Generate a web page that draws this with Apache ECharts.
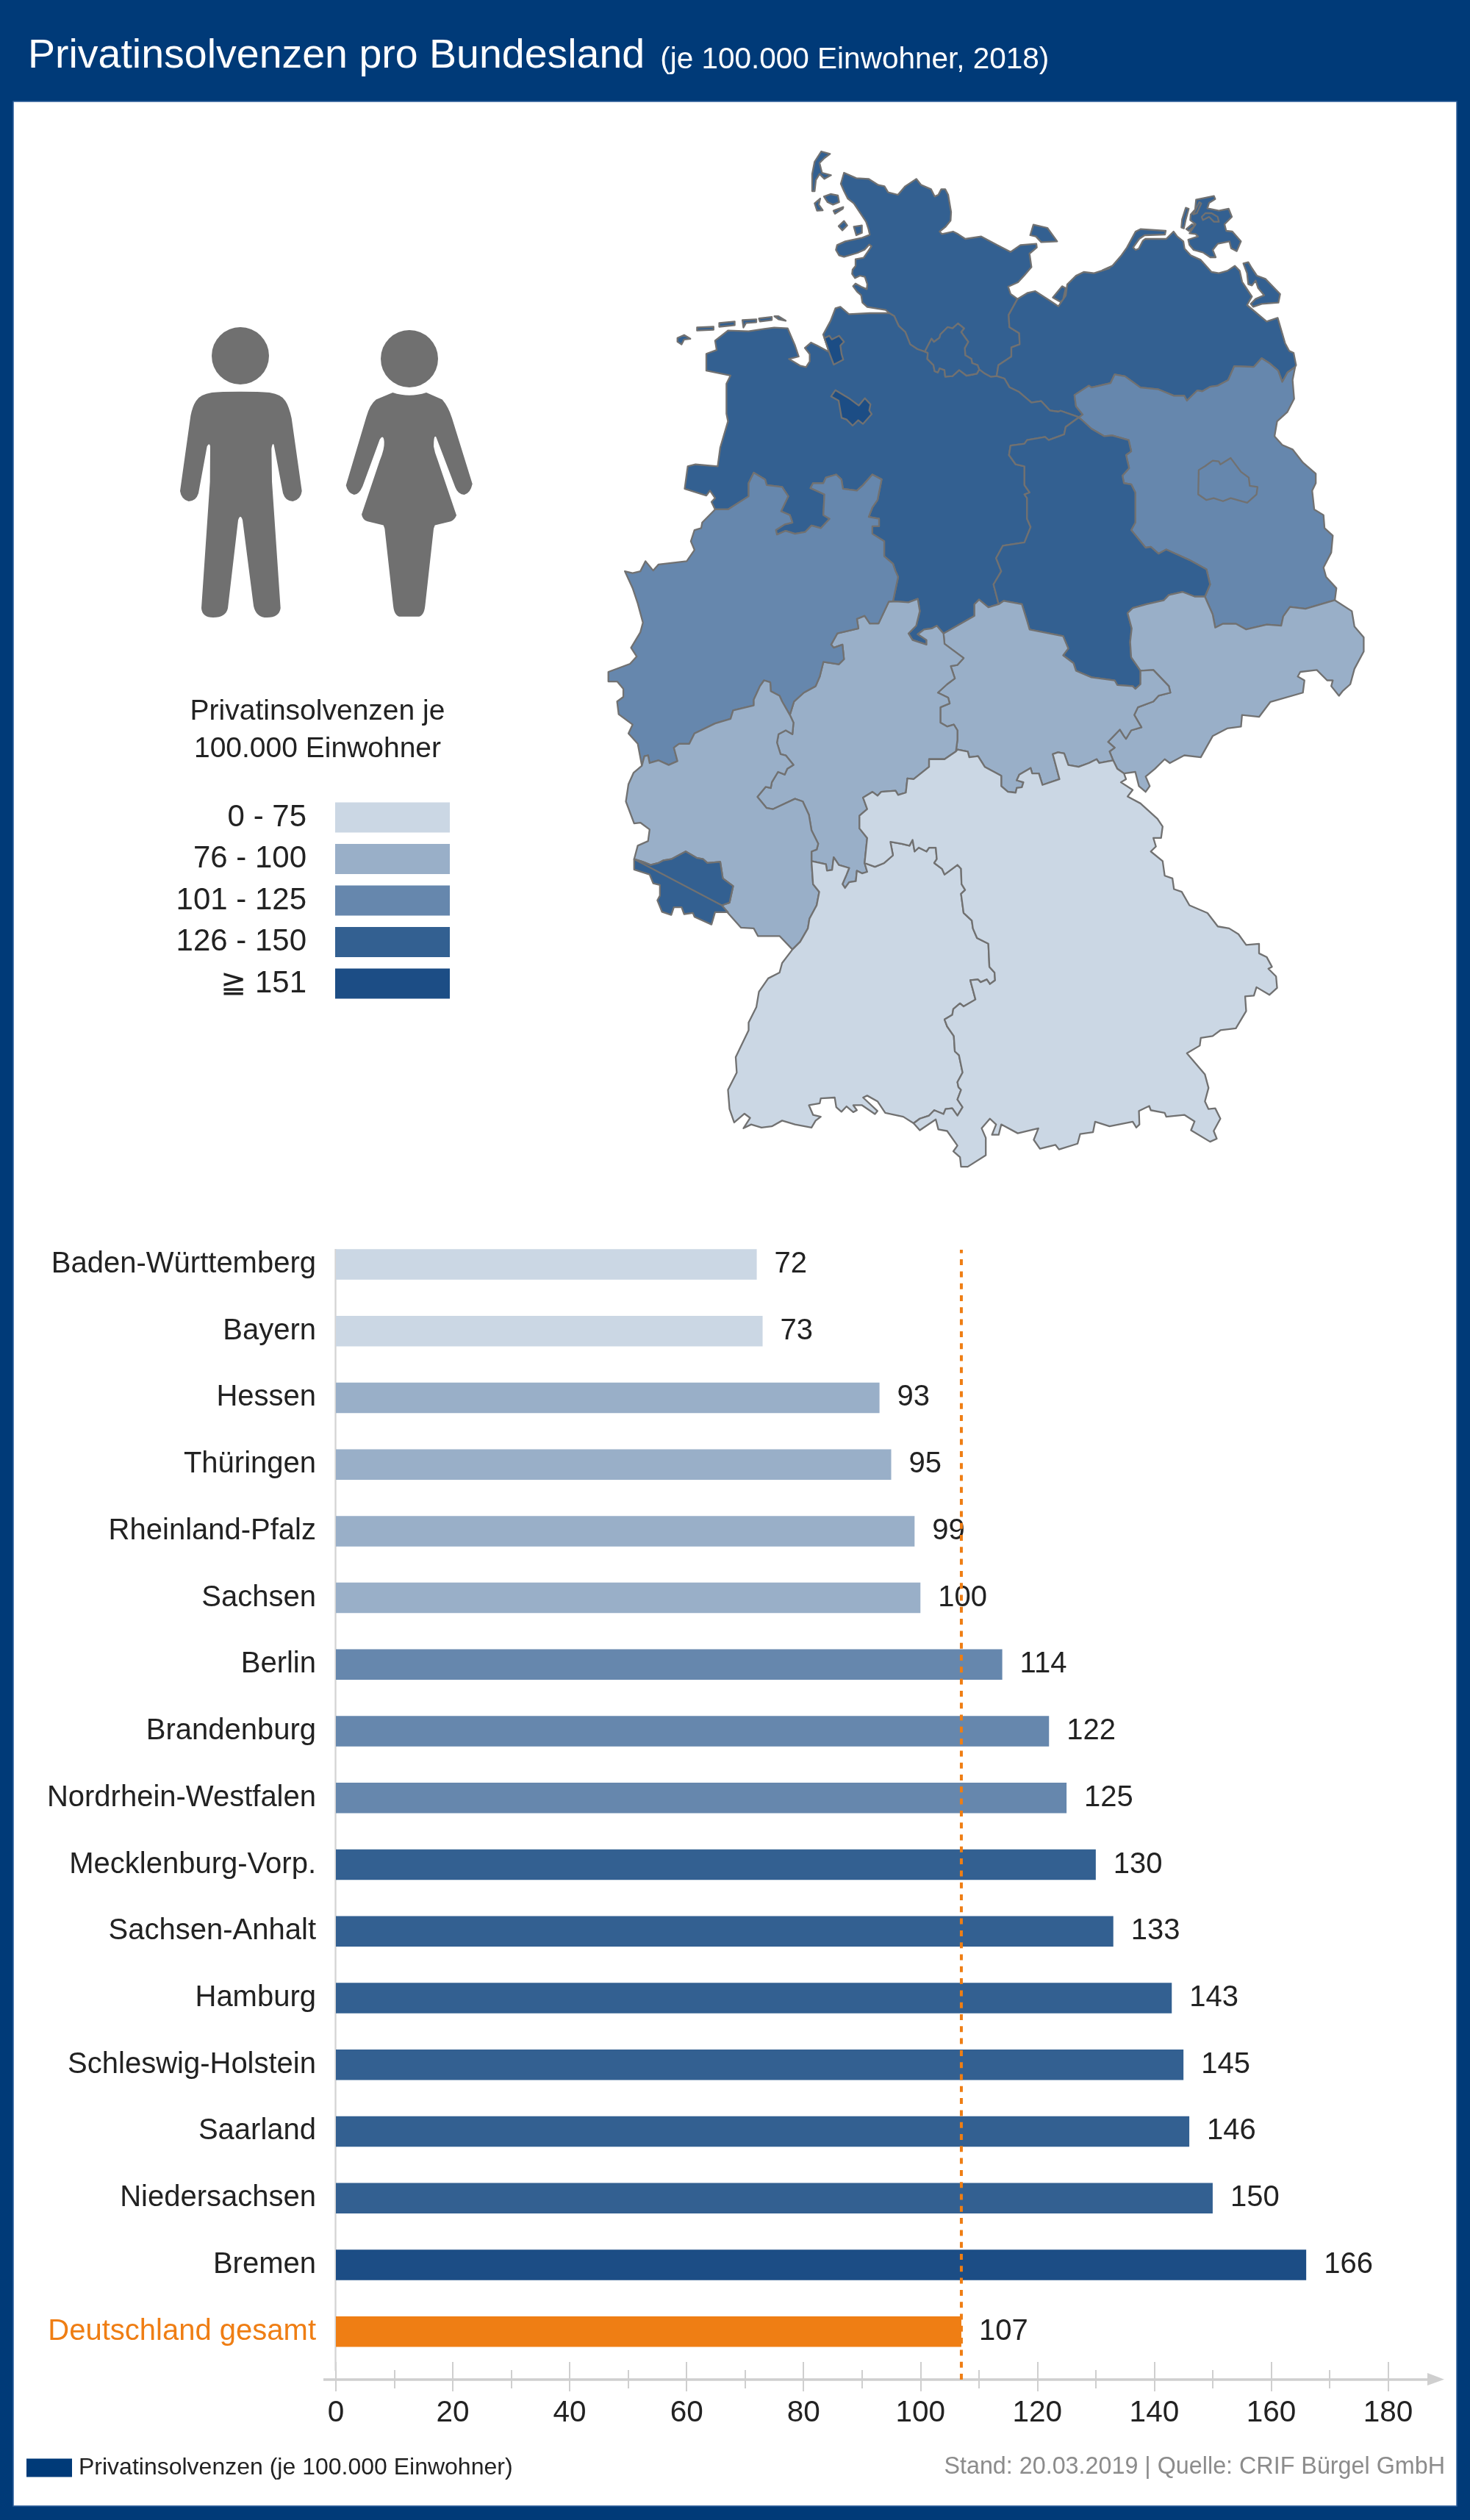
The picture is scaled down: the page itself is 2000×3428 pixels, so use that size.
<!DOCTYPE html>
<html>
<head>
<meta charset="utf-8">
<title>Privatinsolvenzen pro Bundesland</title>
<script src="https://cdn.jsdelivr.net/npm/echarts@6/dist/echarts.min.js"></script>
<style>
html, body { margin: 0; padding: 0; background: #003a78; }
#chart { width: 2000px; height: 3428px; }
</style>
</head>
<body>
<div id="chart"></div>
<script>
var categories = ['Baden-Württemberg', 'Bayern', 'Hessen', 'Thüringen', 'Rheinland-Pfalz', 'Sachsen', 'Berlin', 'Brandenburg', 'Nordrhein-Westfalen', 'Mecklenburg-Vorp.', 'Sachsen-Anhalt', 'Hamburg', 'Schleswig-Holstein', 'Saarland', 'Niedersachsen', 'Bremen', 'Deutschland gesamt'];
var values = [72, 73, 93, 95, 99, 100, 114, 122, 125, 130, 133, 143, 145, 146, 150, 166, 107];
var bandMins = [0, 76, 101, 126, 151];
var bandMaxs = [75, 100, 125, 150, 100000];
var bandLabels = ['0 - 75', '76 - 100', '101 - 125', '126 - 150', '≧ 151'];
var bandColors = ['#cbd7e4', '#99afc8', '#6687ad', '#336091', '#1c4d85'];
var totalName = 'Deutschland gesamt';
var FONT = '"Liberation Sans", Arial, sans-serif';
var BLUE = '#003a78';
var ORANGE = '#ef7e14';

function crop(x0, y0, kx, ky) {
    return function(a) {
        var o = [];
        for (var i = 0; i < a.length; i += 2) o.push([x0 + a[i] / kx, y0 + a[i + 1] / ky]);
        return o;
    };
}
var N = crop(780, 170, 1.4255, 1.96);
var S = crop(780, 800, 1.4255, 1.912);
var W = crop(1040, 180, 3, 3);
var E = crop(1500, 240, 3, 3);
function rev(a) { return a.slice().reverse(); }

var shCoast = W([510,738, 495,725, 420,713, 400,695, 395,665, 378,650, 362,628, 372,617, 395,630, 418,640, 420,620, 410,590, 390,585, 370,595, 358,578, 360,560, 372,545, 372,518, 405,512, 420,490, 437,465, 428,458, 410,478, 380,492, 325,508, 305,502, 292,480, 297,460, 330,445, 400,430, 430,418, 425,395, 415,365, 395,335, 365,290, 340,270, 325,240, 312,210, 325,165, 375,187, 425,190, 465,215, 490,220, 505,245, 545,255, 575,220, 620,190, 640,215, 680,232, 695,262, 710,255, 722,232, 738,232, 750,255, 762,325, 760,360, 740,385, 715,405, 725,415, 770,405, 790,415, 820,435, 885,425, 950,460, 1005,488, 1045,460, 1110,455, 1112,470, 1082,495, 1090,550, 1060,585, 1035,612, 995,630, 1005,660, 1033,680]);
var shMv = W([1033,680, 997,745, 1000,795, 1040,820, 1042,865, 1008,878, 1008,915, 955,950, 948,995]);
var elbe = W([948,995, 980,1005, 1000,1040, 1040,1060, 1090,1103, 1130,1097, 1165,1135, 1200,1140]).concat(N([945,762, 978,778]));
var hhToElbe = W([877,968, 900,985, 925,998, 948,995]);
var hhNorth = W([655,895, 682,842, 692,855, 715,838, 718,825, 748,795, 768,800, 790,780, 815,800, 803,815, 832,855, 818,880, 820,910, 845,925, 848,942, 870,950, 877,968]);
var hhSouth = W([655,895, 667,900, 665,925, 690,950, 695,975, 708,980, 715,963, 735,970, 738,997, 768,995, 795,970, 825,993, 867,985, 877,968]);
var shNi = W([510,738, 530,750, 548,790, 575,815, 595,865, 625,885, 655,895]);
var mvCoast = W([1033,680, 1075,655, 1105,648, 1170,690, 1200,710]).concat(
    N([955,455, 958,425, 975,402, 990,392, 1010,395, 1040,382]),
    E([0,383, 40,365, 75,325, 100,290, 135,225, 155,215, 258,222, 255,237, 172,240, 150,255, 125,290, 135,300, 148,295, 165,262, 175,255, 260,255, 290,225, 305,245, 330,265, 335,295, 360,322, 400,340, 445,390, 475,395, 510,385, 540,365, 560,385, 570,430, 610,490, 590,525, 670,592, 715,577, 745,680, 762,712, 780,720, 790,770])
);
var mvBb = N([1400,645, 1385,660, 1375,685, 1367,655, 1350,635, 1335,622, 1320,645, 1282,643, 1270,680, 1250,695, 1235,698, 1220,710, 1210,708, 1190,735, 1185,722, 1165,722, 1135,705, 1100,700, 1070,670, 1050,665, 1042,688, 1005,700, 1000,695, 972,720, 975,750, 988,772, 980,780]);
var niCoast = W([510,738, 430,738, 345,742, 325,725, 310,712, 290,718, 270,770, 240,825, 265,897, 215,870, 190,858, 165,880, 185,905, 185,935, 170,958, 145,952, 100,925, 140,915, 125,870, 95,800, 40,797, 0,802]).concat(N([340,550, 300,548, 275,575, 278,600, 258,610, 258,655, 305,668, 297,690, 297,770, 300,790, 285,860, 280,910, 237,905, 222,910, 216,970, 258,988, 265,975, 275,995, 268,1005, 275,1025]));
var niNrw = N([275,1025, 300,1025, 340,990, 340,955, 350,927, 372,945, 375,960, 405,965, 417,990, 403,1030, 420,1040, 425,1060, 410,1065, 393,1080, 395,1092, 412,1082, 430,1090, 450,1085, 462,1068, 480,1075, 497,1050, 485,1040, 487,985, 460,968, 465,955, 485,955, 490,940, 510,932, 520,945, 523,970, 550,975, 562,960, 580,932, 598,945, 590,1000, 580,1020, 573,1045, 593,1050, 593,1070, 580,1070, 580,1090, 603,1110, 603,1150, 620,1170, 625,1190, 630,1205, 620,1270]);
var niHe = S([620,35, 630,35, 650,37, 668,28, 672,60, 665,98, 650,118, 658,135, 685,147, 685,135, 668,120, 680,108, 695,105, 705,98, 718,118]);
var niTh = S([718,118, 778,72, 778,42, 787,30, 805,50, 825,42]);
var niSt = N([825,1278, 815,1225, 830,1190, 820,1155, 833,1122, 875,1113, 887,1072, 880,1050, 880,995, 875,985, 885,980, 875,960, 875,910, 858,905, 845,880, 848,855, 875,850, 880,840, 915,832, 922,840, 952,825, 955,805, 978,782, 980,780]);
var bbEast = N([1400,645, 1395,680, 1398,730, 1385,765, 1365,790, 1360,830, 1375,853, 1395,865, 1415,900, 1440,930, 1440,955, 1433,975, 1437,1025, 1455,1040, 1457,1075, 1473,1095, 1470,1140, 1455,1180, 1460,1205, 1480,1235, 1477,1267]);
var bbSn = N([1477,1267, 1420,1290, 1390,1285, 1377,1310, 1373,1335, 1345,1332, 1305,1345, 1285,1330, 1260,1330, 1245,1340, 1240,1305, 1225,1258]);
var bbSt = N([1225,1258, 1235,1225, 1228,1185, 1195,1160, 1150,1132, 1135,1143, 1120,1125, 1110,1127, 1082,1080, 1090,1060, 1090,980, 1082,958, 1068,955, 1065,935, 1078,915, 1072,880, 1082,870, 1077,840, 1045,828, 1030,830, 1005,810, 985,785, 980,780]);
var stTh = S([825,42, 835,33, 870,42, 880,85, 885,108, 950,125, 960,157, 950,175, 970,195, 975,215, 1005,232, 1050,240, 1055,252, 1085,255, 1090,262, 1100,250, 1100,215]);
var stSn = S([1100,215, 1082,180, 1080,140, 1083,105, 1075,65, 1085,52, 1112,42, 1145,32, 1155,18, 1182,10, 1205,22, 1225,22]);
var snOuter = S([1477,30, 1510,60, 1515,100, 1533,128, 1533,165, 1515,210, 1507,250, 1492,268, 1485,280, 1470,255, 1473,240, 1462,240, 1442,213, 1410,218, 1405,230, 1418,240, 1415,272, 1352,296, 1330,335, 1297,330, 1295,360, 1268,365, 1240,385, 1217,440, 1185,435, 1157,455, 1147,445, 1128,470, 1110,490, 1118,515, 1110,530, 1097,515, 1090,478]);
var snBy = S([1090,478, 1068,482, 1055,470, 1047,448]);
var snTh = S([1047,448, 1040,425, 1050,415, 1037,400, 1060,368, 1068,385, 1072,392, 1082,370, 1102,362, 1088,330, 1095,310, 1125,295, 1135,280, 1158,272, 1155,255, 1125,213, 1100,215]);
var thBy = S([1047,448, 1020,455, 1015,445, 1000,455, 980,465, 960,460, 952,430, 940,427, 930,432, 943,497, 910,512, 903,482, 890,482, 887,468, 865,485, 860,500, 873,505, 870,518, 860,520, 858,532, 843,530, 830,515, 830,488, 798,465, 785,437, 768,440, 765,425, 745,420, 742,425]);
var thHe = S([742,425, 745,395, 745,370, 738,355, 725,360, 712,350, 712,310, 730,300, 727,285, 707,272, 725,250, 740,235, 732,203, 745,200, 757,182, 720,145, 718,118]);
var heBy = S([742,425, 720,445, 690,445, 690,465, 660,497, 648,495, 645,532, 630,538, 625,527, 597,530, 590,540, 580,530, 562,545, 570,575, 555,592, 555,625, 570,650, 565,715]);
var heBw = S([565,715, 570,738, 560,742, 550,735, 548,762, 535,765, 527,780, 522,770, 530,745, 535,728, 515,720, 505,700, 502,733, 492,735, 490,718, 462,710]);
var rpHe = S([420,330, 427,350, 425,380, 412,370, 398,380, 395,402, 402,432, 412,435, 427,460, 415,470, 410,485, 397,478, 385,505, 383,520, 373,517, 357,543, 375,572, 387,575, 430,548, 445,555, 457,590, 462,630, 475,665, 472,680, 462,685, 462,710]);
var nrwHe = S([620,35, 612,35, 592,92, 575,92, 565,72, 550,80, 553,105, 512,118, 500,147, 505,155, 522,147, 525,185, 515,198, 485,192, 478,230, 470,255, 447,272, 428,295, 420,330]);
var rpNrw = S([420,330, 405,295, 400,280, 383,268, 382,245, 370,240, 362,255, 350,290, 350,305, 310,318, 305,340, 275,352, 235,378, 225,405, 205,405, 195,415, 202,450, 185,460, 165,448, 148,455, 145,435, 138,437, 133,462]);
var nrwWest = S([133,462, 125,405, 107,378, 115,355, 88,328, 85,295, 97,283, 97,262, 85,243, 68,243, 68,218, 110,197, 123,178, 112,155, 130,115, 135,90, 125,40, 115,0]).concat(N([100,1190, 115,1195, 130,1190, 140,1163, 155,1188, 165,1172, 220,1163, 235,1133, 228,1110, 235,1080, 248,1075, 250,1060, 275,1025]));
var bwRp = S([462,710, 465,770, 477,790, 472,825, 458,860, 455,885, 440,920, 425,940]);
var rpSouth = S([425,940, 400,905, 380,905, 358,905, 350,885, 325,883, 300,845, 288,825]);
var rpSaar = S([288,825, 303,818, 310,775, 290,755, 285,712, 260,715, 252,705, 240,702, 218,685, 190,705, 175,708, 165,715, 150,720, 135,712, 118,705]);
var rpWest = S([118,705, 125,670, 145,658, 148,628, 130,610, 118,612, 102,555, 107,510, 117,480, 133,462]);
var saarOuter = S([118,705, 118,732, 148,745, 155,768, 168,772, 168,800, 163,812, 172,842, 190,850, 195,830, 210,830, 215,848, 232,845, 235,855, 268,875, 275,843, 300,843, 288,825]);
var byBw = S([565,715, 585,725, 603,715, 620,695, 615,660, 637,665, 652,670, 658,655, 662,685, 670,675, 685,685, 690,675, 703,675, 705,705, 700,715, 715,730, 720,745, 735,730, 745,720, 752,730, 753,770, 760,785, 752,795, 757,845, 773,865, 775,885, 783,910, 805,925, 807,985, 817,1000, 818,1020, 808,1030, 802,1018, 790,1025, 785,1018, 770,1020, 780,1070, 757,1088, 750,1080, 737,1095, 735,1110, 720,1122, 725,1140, 738,1165, 740,1205, 748,1215, 755,1260, 745,1285, 747,1298, 752,1305, 745,1330, 755,1350, 745,1372, 735,1353, 722,1355, 718,1368, 700,1358, 690,1372, 672,1380, 660,1392]);
var byOuter = S([660,1392, 672,1410, 703,1382, 708,1408, 725,1412, 745,1450, 737,1465, 750,1480, 752,1505, 765,1505, 800,1475, 800,1430, 792,1405, 808,1380, 820,1395, 812,1422, 825,1422, 830,1395, 862,1418, 902,1405, 893,1435, 905,1458, 935,1448, 942,1460, 978,1445, 983,1420, 1008,1415, 1012,1388, 1040,1400, 1085,1388, 1092,1403, 1098,1395, 1097,1360, 1117,1347, 1120,1358, 1147,1365, 1150,1375, 1185,1370, 1205,1387, 1198,1410, 1235,1440, 1248,1432, 1242,1412, 1255,1380, 1245,1353, 1232,1355, 1225,1335, 1232,1300, 1225,1265, 1190,1210, 1215,1190, 1217,1170, 1240,1165, 1255,1150, 1285,1145, 1305,1100, 1303,1062, 1320,1060, 1325,1038, 1350,1058, 1365,1040, 1363,1010, 1348,990, 1355,985, 1345,960, 1330,950, 1330,925, 1305,928, 1290,900, 1272,885, 1250,880, 1230,845, 1195,825, 1180,790, 1165,783, 1162,755, 1147,748, 1143,710, 1120,685, 1130,672, 1125,650, 1140,650, 1143,620, 1133,600, 1100,560, 1075,542, 1085,525, 1062,505, 1072,497, 1068,482]);
var bwOuter = S([425,940, 405,975, 400,1000, 378,1015, 360,1050, 355,1090, 340,1130, 340,1150, 315,1220, 317,1260, 300,1305, 303,1355, 312,1390, 332,1367, 343,1378, 330,1405, 345,1395, 365,1403, 385,1400, 405,1385, 430,1395, 462,1403, 470,1385, 480,1375, 465,1370, 457,1345, 478,1340, 480,1327, 507,1325, 510,1350, 520,1362, 530,1348, 543,1363, 550,1358, 543,1345, 560,1345, 585,1368, 590,1360, 570,1335, 562,1325, 570,1320, 590,1335, 605,1365, 640,1375, 660,1392]);

var sylt = W([195,240, 195,170, 205,120, 232,78, 268,88, 245,105, 225,125, 235,165, 272,175, 245,190, 225,170, 210,195, 205,240]);
var foehr = W([243,262, 270,252, 300,258, 305,285, 280,295, 258,285]);
var amrum = W([228,270, 205,290, 215,320, 238,318, 222,295]);
var hallig = W([282,320, 322,305, 320,312, 288,332]);
var hooge = W([303,383, 325,362, 338,380, 318,400]);
var pellworm = W([365,385, 398,380, 398,410, 375,420]);
var fehmarn = W([1085,420, 1098,377, 1155,390, 1195,445, 1130,448, 1108,425]);
var ruegen = E([360,155, 378,135, 382,95, 455,80, 460,92, 435,108, 428,130, 475,140, 515,132, 528,165, 498,195, 505,222, 530,225, 565,265, 548,305, 525,293, 518,265, 470,275, 450,300, 462,330, 440,330, 410,310, 372,300, 355,280, 350,258, 390,245, 380,235, 355,232, 380,195, 358,178]);
var ruegenLagoon = E([420,150, 445,150, 470,165, 475,185, 455,185, 435,165, 410,178, 405,165]);
var ruegenSliver = E([395,105, 403,110, 385,150, 370,155]);
var hiddensee = E([340,128, 352,132, 340,175, 332,212, 322,208, 325,175]);
var ummanz = E([342,215, 365,195, 378,200, 352,222]);
var usedom = E([575,355, 595,350, 610,375, 630,405, 665,418, 725,480, 718,515, 650,520, 615,532, 605,520, 625,500, 660,485, 635,455, 625,425, 610,445, 595,440, 590,395]);
var poel = N([930,460, 948,430, 955,435, 950,465, 945,472]);
var borkum = N([202,568, 215,560, 227,570, 215,572, 210,585, 202,578]);
var juist = N([240,540, 272,538, 272,546, 240,548]);
var norderney = N([283,528, 313,524, 313,534, 283,538]);
var baltrum = N([328,520, 355,518, 355,526, 335,528, 330,540]);
var langeoog = N([360,516, 385,512, 385,520, 362,524]);
var spiekeroog = N([390,510, 398,510, 412,522, 398,518]);
var bremerhaven = W([245,840, 265,830, 275,845, 305,830, 325,855, 310,870, 315,905, 322,928, 283,948, 265,900, 255,870]);
var bremenCity = W([272,1078, 290,1052, 345,1085, 385,1115, 410,1085, 433,1110, 428,1135, 438,1150, 402,1190, 383,1175, 360,1197, 335,1172, 315,1165, 303,1095]);
var berlinCity = N([1213,920, 1225,910, 1240,895, 1252,897, 1255,905, 1275,888, 1295,925, 1310,940, 1312,962, 1327,965, 1325,985, 1307,1007, 1275,995, 1260,1003, 1242,995, 1228,1000, 1212,985]);

// each region is a list of polygons, a polygon is a list of rings (first outer, rest holes)
// later regions paint over earlier ones: city states stay last
var regions = [
    ['Schleswig-Holstein', [[shCoast.concat(shMv, rev(hhToElbe), rev(hhNorth), rev(shNi))], [sylt], [foehr], [amrum], [hallig], [hooge], [pellworm], [fehmarn]]],
    ['Mecklenburg-Vorp.', [[mvCoast.concat(mvBb, rev(elbe), rev(shMv))], [ruegen, ruegenLagoon, ruegenSliver], [hiddensee], [ummanz], [usedom], [poel]]],
    ['Niedersachsen', [[niCoast.concat(niNrw, niHe, niTh, niSt, rev(elbe), rev(hhToElbe), rev(hhSouth), rev(shNi))], [borkum], [juist], [norderney], [baltrum], [langeoog], [spiekeroog]]],
    ['Brandenburg', [[rev(mvBb).concat(bbEast, bbSn, bbSt)]]],
    ['Sachsen-Anhalt', [[rev(niSt).concat(stTh, stSn, bbSt)]]],
    ['Sachsen', [[rev(bbSn).concat(snOuter, snBy, snTh, stSn)]]],
    ['Thüringen', [[niTh.concat(stTh, rev(snTh), thBy, thHe)]]],
    ['Hessen', [[niHe.concat(rev(thHe), heBy, heBw, rev(rpHe), rev(nrwHe))]]],
    ['Nordrhein-Westfalen', [[niNrw.concat(nrwHe, rpNrw, nrwWest)]]],
    ['Rheinland-Pfalz', [[rpHe.concat(bwRp, rpSouth, rpSaar, rpWest, rev(rpNrw))]]],
    ['Saarland', [[rev(rpSaar).concat(saarOuter)]]],
    ['Baden-Württemberg', [[bwRp.concat(bwOuter, rev(byBw), heBw)]]],
    ['Bayern', [[byBw.concat(byOuter, snBy.slice(1), thBy, heBy)]]],
    ['Hamburg', [[hhNorth.concat(rev(hhSouth))]]],
    ['Berlin', [[berlinCity]]],
    ['Bremen', [[bremerhaven], [bremenCity]]]
];

var minX = Infinity, maxX = -Infinity, minY = Infinity, maxY = -Infinity;
var features = regions.map(function(r) {
    return {
        type: 'Feature',
        properties: { name: r[0] },
        geometry: {
            type: 'MultiPolygon',
            coordinates: r[1].map(function(polygon) {
                return polygon.map(function(ring) {
                    return ring.concat([ring[0]]).map(function(p) {
                        minX = Math.min(minX, p[0]); maxX = Math.max(maxX, p[0]);
                        minY = Math.min(minY, p[1]); maxY = Math.max(maxY, p[1]);
                        return [p[0], -p[1]];
                    });
                });
            })
        }
    };
});
echarts.registerMap('bundeslaender', { type: 'FeatureCollection', features: features });

function bandColor(v) {
    for (var i = 0; i < bandMins.length; i++) {
        if (v >= bandMins[i] && v <= bandMaxs[i]) return bandColors[i];
    }
}

var mapData = [];
var barData = [];
var categoryData = [];
categories.forEach(function(name, i) {
    var isTotal = name === totalName;
    if (!isTotal) mapData.push({ name: name, value: values[i] });
    barData.push({ value: values[i], itemStyle: { color: isTotal ? ORANGE : bandColor(values[i]) } });
    categoryData.push({ value: name, textStyle: { color: isTotal ? ORANGE : '#222' } });
});
var totalValue = values[categories.indexOf(totalName)];

var manPath = 'M380,208 Q300,208 265,210 Q215,214 200,228 Q185,240 178,260 L135,420 Q140,438 170,442 Q200,442 210,425 L245,325 Q255,315 258,325 L257,400 L222,670 Q225,690 270,690 Q322,690 330,670 L372,482 Q381,468 390,482 L435,665 Q445,690 490,690 Q540,690 545,670 L510,400 L508,330 Q512,315 518,322 L555,425 Q565,442 595,442 Q628,438 632,420 L590,265 Q580,240 565,228 Q550,214 500,210 Q460,208 380,208 Z';
var womanPath = 'M1003,210 Q1070,222 1140,210 L1205,225 Q1230,240 1245,265 L1328,405 Q1320,425 1295,428 Q1270,428 1258,412 L1180,305 Q1170,298 1170,325 Q1175,340 1185,352 L1263,472 Q1255,482 1240,485 L1175,493 L1170,500 L1135,665 Q1130,688 1105,688 L1035,688 Q1010,688 1005,665 L970,500 L965,493 L900,485 Q880,482 876,470 L950,355 Q970,330 968,315 Q965,298 950,310 L880,410 Q865,428 845,428 Q820,425 812,408 L895,262 Q910,235 935,225 Z';

var option = {
    backgroundColor: BLUE,
    animation: false,
    textStyle: { fontFamily: FONT },
    title: [
        {
            left: 33, top: 44,
            text: '{a|Privatinsolvenzen pro Bundesland} {b|(je 100.000 Einwohner, 2018)}',
            textStyle: {
                rich: {
                    a: { fontFamily: FONT, fontSize: 55.5, color: '#fff', fontWeight: 'normal' },
                    b: { fontFamily: FONT, fontSize: 40.5, color: '#fff', fontWeight: 'normal', verticalAlign: 'bottom', padding: [0, 0, 3, 16] }
                }
            }
        },
        {
            left: 427, top: 938, textAlign: 'center',
            text: 'Privatinsolvenzen je\n100.000 Einwohner',
            textStyle: { fontFamily: FONT, fontSize: 39, lineHeight: 51, color: '#222', fontWeight: 'normal', align: 'center' }
        },
        {
            right: 29, top: 3335,
            text: 'Stand: 20.03.2019 | Quelle: CRIF Bürgel GmbH',
            textStyle: { fontFamily: FONT, fontSize: 32.3, color: '#8c8c8c', fontWeight: 'normal' }
        }
    ],
    legend: {
        left: 31, top: 3336,
        data: ['Privatinsolvenzen (je 100.000 Einwohner)'],
        icon: 'rect',
        itemWidth: 62, itemHeight: 25,
        selectedMode: false,
        textStyle: { fontFamily: FONT, fontSize: 32, color: '#222', padding: [0, 0, 0, 4] }
    },
    visualMap: {
        type: 'piecewise',
        seriesIndex: 2,
        right: 1373, top: 1076,
        align: 'right',
        itemWidth: 156, itemHeight: 41, itemGap: 14.5, itemSymbol: 'rect',
        textGap: 39,
        selectedMode: false,
        hoverLink: false,
        showLabel: true,
        inverse: true,
        textStyle: { fontFamily: FONT, fontSize: 42, color: '#222' },
        pieces: bandLabels.map(function(label, i) {
            return { min: bandMins[i], max: bandMaxs[i], label: label, color: bandColors[i] };
        })
    },
    grid: [
        { left: 457, width: 1431.5, top: 1674.6, height: 1542.4 },
        { left: 457, width: 1431.5, top: 1700, height: 1537 },
        { left: 457, width: 1431.5, top: 3213, height: 40 },
        { left: 457, width: 1431.5, top: 3224, height: 25 }
    ],
    xAxis: [
        { gridIndex: 0, type: 'value', min: 0, max: 180, show: false },
        { gridIndex: 1, type: 'value', min: 0, max: 180, show: false },
        {
            gridIndex: 2, type: 'value', min: 0, max: 180, interval: 20,
            axisLine: { show: false }, axisTick: { show: false },
            axisLabel: { fontFamily: FONT, fontSize: 40.5, color: '#222', margin: 9 },
            splitLine: { show: true, lineStyle: { color: '#cfcfcf', width: 2 } }
        },
        {
            gridIndex: 3, type: 'value', min: 0, max: 180, interval: 10,
            axisLine: { show: false }, axisTick: { show: false }, axisLabel: { show: false },
            splitLine: { show: true, lineStyle: { color: '#cfcfcf', width: 2 } }
        }
    ],
    yAxis: [
        {
            gridIndex: 0, type: 'category', inverse: true, data: categoryData,
            axisTick: { show: false },
            axisLine: { show: false },
            axisLabel: { fontFamily: FONT, fontSize: 40, margin: 27, interval: 0 }
        },
        { gridIndex: 1, type: 'value', min: 0, max: 1, show: false },
        { gridIndex: 2, type: 'value', min: 0, max: 1, show: false, splitLine: { show: false } },
        { gridIndex: 3, type: 'value', min: 0, max: 1, show: false, splitLine: { show: false } }
    ],
    series: [
        {
            name: 'Privatinsolvenzen (je 100.000 Einwohner)',
            type: 'bar',
            xAxisIndex: 0, yAxisIndex: 0,
            barWidth: 41.5,
            itemStyle: { color: BLUE },
            data: barData,
            label: { show: true, position: 'right', distance: 24, offset: [0, 0], fontFamily: FONT, fontSize: 40, color: '#222' }
        },
        {
            name: 'Deutschland gesamt',
            type: 'line',
            xAxisIndex: 1, yAxisIndex: 1,
            symbol: 'none', silent: true, z: 5,
            lineStyle: { color: ORANGE, width: 4, type: [8, 8.3] },
            data: [[totalValue, 0], [totalValue, 1]]
        },
        {
            name: 'Karte',
            type: 'map',
            map: 'bundeslaender',
            silent: true,
            aspectScale: 1,
            left: minX, top: minY, width: maxX - minX, height: maxY - minY,
            roam: false,
            showLegendSymbol: false,
            label: { show: false },
            emphasis: { disabled: true },
            select: { disabled: true },
            itemStyle: { borderColor: '#717171', borderWidth: 2.3, borderJoin: 'round' },
            data: mapData
        },
        {
            // the two figures
            name: 'Figuren',
            type: 'custom',
            coordinateSystem: 'none',
            silent: true,
            data: [0],
            renderItem: function() {
                return {
                    type: 'group',
                    children: [
                        { type: 'path', shape: { pathData: manPath, layout: 'cover', x: 245, y: 532.7, width: 165.7, height: 307.4 }, style: { fill: '#707070' } },
                        { type: 'path', shape: { pathData: womanPath, layout: 'cover', x: 470.7, y: 534, width: 172, height: 304.8 }, style: { fill: '#707070' } }
                    ]
                };
            }
        }
    ],
    graphic: [
        {
            type: 'rect', z: -10, silent: true,
            shape: { x: 18, y: 138, width: 1964, height: 3271 },
            style: { fill: '#fff', stroke: '#2c5e99', lineWidth: 1.5 }
        },
        { type: 'circle', silent: true, shape: { cx: 327, cy: 484, r: 39 }, style: { fill: '#707070' } },
        { type: 'circle', silent: true, shape: { cx: 557, cy: 488, r: 39 }, style: { fill: '#707070' } },
        { type: 'line', silent: true, z: 1, shape: { x1: 456.5, y1: 1699, x2: 456.5, y2: 3225 }, style: { stroke: '#d4d4d4', lineWidth: 2.3 } },
        { type: 'line', silent: true, z: 3, shape: { x1: 440, y1: 3237, x2: 1946, y2: 3237 }, style: { stroke: '#cfcfcf', lineWidth: 3.5 } },
        { type: 'polygon', silent: true, z: 3, shape: { points: [[1942, 3228], [1965, 3236.7], [1942, 3245]] }, style: { fill: '#cfcfcf' } }
    ]
};

var chart = echarts.init(document.getElementById('chart'), null, { renderer: 'canvas' });
chart.setOption(option);
</script>
</body>
</html>
